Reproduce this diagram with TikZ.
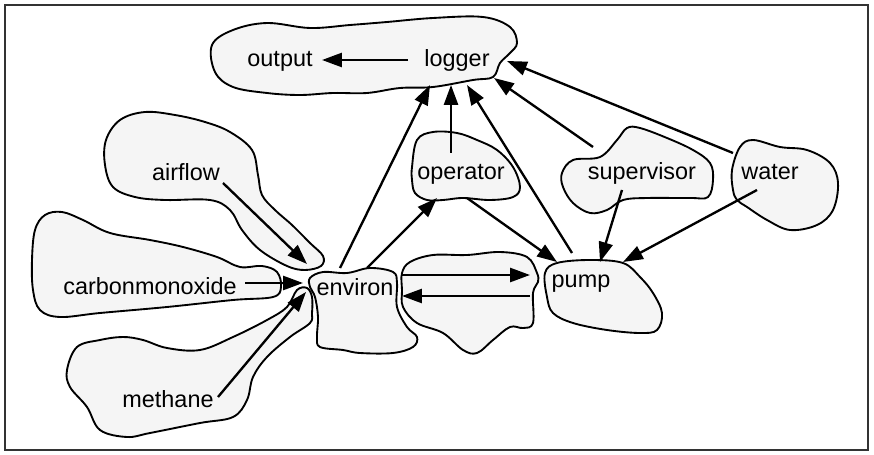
\documentclass[tikz,border=0pt]{standalone}
\usepackage{fontspec}
\setmainfont{Liberation Sans}
\usetikzlibrary{arrows.meta}

\begin{document}
\begin{tikzpicture}[x=0.03cm, y=-0.03cm,
	blob/.style={draw, line width=1.6pt, fill=black!4, line join=round},
	flow/.style={line width=2pt, -{Triangle[length=17pt,width=12pt]}},
	lbl/.style={anchor=base, inner sep=0pt, font=\fontsize{20}{24}\selectfont}]
	\useasboundingbox (0,0) rectangle (874,455);
	\draw[line width=1pt, black!80] (5,5) rectangle (868,450);

	% blobs
	\draw[blob] plot[smooth cycle, tension=0.6] coordinates {(212,45) (233,30) (267,23) (310,28) (350,25) (387,22) (433,18) (483,17) (510,27) (517,43) (510,53) (500,63) (493,77) (473,80) (433,87) (400,88) (367,93) (333,93) (300,95) (267,93) (233,87) (215,72)};
	\draw[blob] plot[smooth cycle, tension=0.6] coordinates {(105,165) (106,140) (120,120) (145,112) (175,115) (205,122) (230,132) (252,150) (258,175) (262,195) (275,210) (292,225) (310,243) (323,256) (321,266) (305,270) (287,266) (260,250) (242,230) (230,210) (210,200) (165,200) (135,197) (113,187)};
	\draw[blob] plot[smooth cycle, tension=0.6] coordinates {(35,230) (45,215) (62,212) (83,220) (110,233) (150,240) (183,247) (217,257) (240,267) (262,266) (277,272) (281,287) (273,297) (233,300) (167,307) (100,313) (60,317) (40,310) (33,290) (32,260)};
	\draw[blob] plot[smooth cycle, tension=0.6] coordinates {(67,370) (77,347) (100,340) (123,337) (143,340) (167,348) (200,350) (233,337) (267,320) (287,307) (297,290) (307,288) (312,297) (312,313) (310,323) (290,337) (267,357) (253,377) (247,400) (233,417) (200,423) (150,433) (127,437) (100,430) (87,407) (70,387)};
	\draw[blob] plot[smooth cycle, tension=0.6] coordinates {(310,278) (323,272) (347,273) (370,268) (393,272) (397,283) (397,307) (407,327) (417,337) (413,347) (393,353) (360,353) (343,350) (320,347) (317,337) (318,317) (315,297) (310,287)};
	\draw[blob] plot[smooth cycle, tension=0.6] coordinates {(402,273) (410,262) (433,255) (467,255) (500,252) (527,257) (537,273) (538,282) (533,293) (533,323) (523,328) (510,327) (493,340) (477,353) (463,350) (443,333) (417,323) (403,307) (402,290)};
	\draw[blob] plot[smooth cycle, tension=0.6] coordinates {(545,273) (557,263) (590,260) (623,263) (640,277) (653,293) (662,313) (657,330) (640,333) (607,330) (573,323) (553,313) (547,297)};
	\draw[blob] plot[smooth cycle, tension=0.6] coordinates {(412,167) (417,140) (433,132) (457,133) (477,140) (497,150) (513,167) (520,187) (513,197) (490,200) (463,198) (443,200) (427,200) (415,193) (412,180)};
	\draw[blob] plot[smooth cycle, tension=0.6] coordinates {(562,173) (573,160) (600,157) (617,140) (627,128) (640,128) (667,138) (693,150) (710,163) (713,180) (708,197) (690,198) (647,198) (623,200) (607,210) (590,213) (573,203) (563,187)};
	\draw[blob] plot[smooth cycle, tension=0.6] coordinates {(733,190) (732,170) (740,147) (753,140) (780,147) (807,150) (830,163) (838,183) (833,210) (817,225) (790,230) (767,220) (747,207) (737,200)};

	% labels
	\node[lbl] (output) at (280,67) {output};
	\node[lbl] (logger) at (457,67) {logger};
	\node[lbl] (airflow) at (186,181) {airflow};
	\node[lbl] (carbonmonoxide) at (150,294) {carbonmonoxide};
	\node[lbl] (methane) at (168,407) {methane};
	\node[lbl] (environ) at (355,295) {environ};
	\node[lbl] (operator) at (461,180) {operator};
	\node[lbl] (supervisor) at (642,180) {supervisor};
	\node[lbl] (water) at (770,180) {water};
	\node[lbl] (pump) at (581,287) {pump};

	% arrow ends
	\coordinate (lg-w) at (408,60);
	\coordinate (out-e) at (322,60);
	\coordinate (lg-a) at (430,85);
	\coordinate (lg-b) at (451,85);
	\coordinate (lg-c) at (467,85);
	\coordinate (lg-d) at (494,78);
	\coordinate (lg-e) at (507,61);
	\coordinate (air-s) at (223,183);
	\coordinate (co-e) at (245,283);
	\coordinate (me-e) at (218,397);
	\coordinate (env-a) at (307,264);
	\coordinate (env-b) at (303,283);
	\coordinate (env-c) at (306,292);
	\coordinate (env-n) at (340,268);
	\coordinate (env-ne) at (367,268);
	\coordinate (env-e1) at (402,275);
	\coordinate (env-e2) at (402,296);
	\coordinate (op-n) at (451,153);
	\coordinate (op-sw) at (437,198);
	\coordinate (op-se) at (467,198);
	\coordinate (pu-n) at (572,253);
	\coordinate (pu-w1) at (530,275);
	\coordinate (pu-w2) at (530,296);
	\coordinate (pu-a) at (557,262);
	\coordinate (pu-b) at (600,262);
	\coordinate (pu-c) at (623,262);
	\coordinate (su-nw) at (593,147);
	\coordinate (su-s) at (622,190);
	\coordinate (wa-nw) at (733,153);
	\coordinate (wa-s) at (757,190);

	% connectors
	\draw[flow] (lg-w) -- (out-e);
	\draw[flow] (air-s) -- (env-a);
	\draw[flow] (co-e) -- (env-b);
	\draw[flow] (me-e) -- (env-c);
	\draw[flow] (env-n) -- (lg-a);
	\draw[flow] (op-n) -- (lg-b);
	\draw[flow] (pu-n) -- (lg-c);
	\draw[flow] (su-nw) -- (lg-d);
	\draw[flow] (wa-nw) -- (lg-e);
	\draw[flow] (env-ne) -- (op-sw);
	\draw[flow] (op-se) -- (pu-a);
	\draw[flow] (su-s) -- (pu-b);
	\draw[flow] (wa-s) -- (pu-c);
	\draw[flow] (env-e1) -- (pu-w1);
	\draw[flow] (pu-w2) -- (env-e2);
\end{tikzpicture}
\end{document}
